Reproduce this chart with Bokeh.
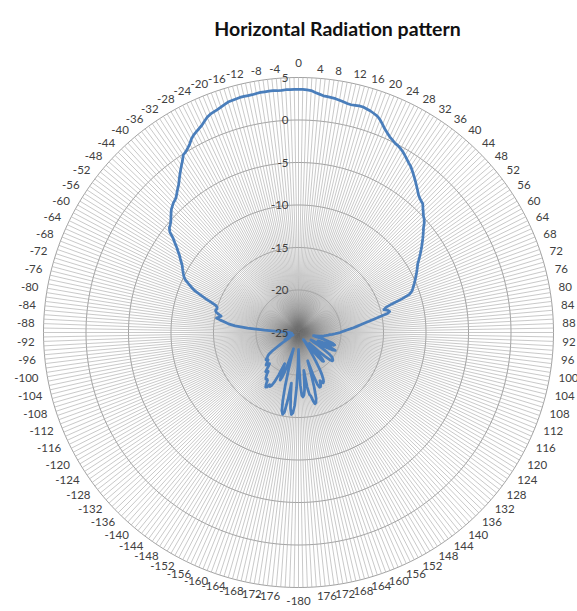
import numpy as np
from bokeh.plotting import figure
from bokeh.models import Range1d
from bokeh.core.properties import value
from bokeh.embed import file_html
from bokeh.resources import INLINE

# ---------------- data ----------------
title_text = "Horizontal Radiation pattern"

# categories in the order Excel places them clockwise from the top
angles_right = list(range(0, 180))      # 0 .. 179
angles_left = list(range(-180, 0))      # -180 .. -1

gain_right = [
    3.6, 3.6, 3.55, 3.5, 3.3, 3.15, 3.0, 2.95, 2.9, 2.85,
    2.75, 2.65, 2.55, 2.5, 2.55, 2.6, 2.6, 2.5, 2.4, 2.25,
    2.1, 1.8, 1.4, 1.0, 0.7, 0.4, 0.2, 0.0, -0.1, -0.25,
    -0.45, -0.7, -0.95, -1.2, -1.4, -1.7, -2.0, -2.3, -2.6, -2.9,
    -3.2, -3.5, -3.7, -3.85, -3.95, -4.3, -4.6, -4.9, -5.1, -5.4,
    -5.8, -6.1, -6.4, -6.7, -7.0, -7.3, -7.6, -7.9, -8.2, -8.5,
    -8.8, -9.0, -9.2, -9.4, -9.6, -9.8, -10.0, -10.2, -10.4, -10.6,
    -10.8, -11.2, -12.2, -13.5, -14.3, -14.6, -14.2, -14.0, -14.3, -15.2,
    -16.0, -16.6, -17.2, -17.7, -18.1, -18.5, -18.9, -19.3, -19.6, -19.9,
    -20.1, -20.4, -20.7, -21.0, -21.3, -21.5, -21.7, -21.9, -22.0, -22.2,
    -22.5, -23.0, -23.2, -23.0, -22.5, -22.0, -21.5, -21.0, -20.7, -20.5,
    -20.6, -21.0, -21.8, -22.5, -22.0, -20.8, -20.2, -20.4, -21.2, -22.2,
    -23.0, -23.3, -23.0, -22.2, -21.3, -20.6, -20.2, -20.0, -19.9, -19.8,
    -19.8, -20.1, -20.8, -21.8, -22.8, -23.2, -22.5, -21.5, -20.8, -20.5,
    -20.6, -21.2, -22.2, -23.2, -23.8, -24.0, -23.5, -22.8, -22.0, -21.0,
    -20.0, -19.3, -18.8, -18.5, -18.4, -18.6, -18.8, -18.3, -18.1, -18.1,
    -18.5, -19.8, -21.5, -20.0, -18.3, -17.0, -16.5, -16.4, -16.8, -17.4,
    -17.6, -18.5, -20.5, -19.5, -18.2, -17.6, -17.4, -17.6, -18.8, -21.0,
]

gain_left = [
    -23.0, -21.0, -18.5, -16.4, -15.5, -15.3, -16.0, -17.5, -19.0, -17.0,
    -15.5, -15.2, -15.6, -16.8, -18.5, -20.5, -22.0, -23.0, -22.0, -20.5,
    -19.5, -19.0, -19.5, -20.5, -21.0, -19.5, -18.5, -18.0, -17.8, -18.0,
    -17.6, -17.5, -17.8, -18.3, -18.4, -18.3, -18.5, -18.8, -19.2, -19.0,
    -19.0, -19.4, -19.8, -20.0, -19.8, -19.6, -19.8, -20.0, -20.2, -20.2,
    -20.0, -20.2, -20.4, -20.5, -20.8, -21.3, -22.0, -22.5, -23.0, -23.5,
    -23.8, -23.5, -23.2, -23.5, -23.8, -24.0, -24.3, -24.0, -23.7, -24.0,
    -24.3, -24.0, -23.6, -23.8, -24.0, -24.2, -24.0, -23.8, -23.6, -23.5,
    -23.5, -23.8, -24.0, -24.0, -24.2, -24.0, -23.8, -23.6, -23.6, -23.8,
    -24.0, -23.8, -23.3, -22.5, -21.0, -19.0, -17.5, -16.7, -16.3, -15.7,
    -15.2, -15.5, -15.7, -15.3, -15.0, -14.9, -15.0, -15.0, -14.8, -14.2,
    -13.4, -12.6, -11.8, -11.3, -10.8, -10.3, -10.0, -9.8, -9.6, -9.4,
    -9.2, -8.9, -8.6, -8.3, -7.9, -7.5, -7.0, -6.5, -5.8, -5.45,
    -5.3, -5.1, -4.8, -4.5, -4.2, -4.0, -3.8, -3.7, -3.5, -3.2,
    -2.9, -2.6, -2.2, -1.8, -1.4, -1.0, -0.6, -0.1, 0.05, 0.3,
    0.6, 1.0, 1.3, 1.5, 1.7, 1.9, 2.2, 2.5, 2.7, 2.8,
    2.9, 3.05, 3.2, 3.35, 3.4, 3.45, 3.5, 3.5, 3.5, 3.5,
    3.55, 3.6, 3.6, 3.6, 3.6, 3.55, 3.55, 3.6, 3.6, 3.6,
]

ring_values = [-25, -20, -15, -10, -5, 0, 5]
label_step = 4

# ---------------- layout ----------------
W, H = 577, 611
CX, CY = 298, 332          # centre of the radar inside the canvas (px)
R = 255.0                  # outer ring radius (px)
r_min, r_max = ring_values[0], ring_values[-1]
scale = R / (r_max - r_min)

cats = angles_right + angles_left
vals = np.array(gain_right + gain_left, dtype=float)
n = len(cats)
theta = np.deg2rad(np.arange(n) * 360.0 / n)
s, c = np.sin(theta), np.cos(theta)

p = figure(width=W, height=H,
           x_range=Range1d(-CX, W - CX), y_range=Range1d(-(H - CY), CY),
           output_backend="svg", toolbar_location=None, min_border=0,
           x_axis_location=None, y_axis_location=None)
p.outline_line_color = None
p.grid.visible = False
p.background_fill_color = "white"
p.border_fill_color = "white"

# spokes (semi-transparent so they darken where they converge, as in Excel)
p.segment(x0=np.zeros(n), y0=np.zeros(n), x1=R * s, y1=R * c,
          line_color="#707070", line_alpha=0.42, line_width=0.9)

# rings
xs, ys = [], []
for v in ring_values[1:]:
    rr = (v - r_min) * scale
    xs.append(list(np.append(rr * s, rr * s[0])))
    ys.append(list(np.append(rr * c, rr * c[0])))
p.multi_line(xs=xs, ys=ys, line_color="#a3a3a3", line_width=1)

# data line
rad = (vals - r_min) * scale
dx = np.append(rad * s, rad[0] * s[0])
dy = np.append(rad * c, rad[0] * c[0])
p.line(dx, dy, line_color="#4a7ebb", line_width=2.75, line_join="round")

# category labels
font = value("Lato")
fs = "11.5px"
tc = "#404040"
LR = 264.0
idx = [i for i in range(n) if cats[i] % label_step == 0]
right = [i for i in idx if 0 < i < n // 2]
left = [i for i in idx if i > n // 2]
top = [i for i in idx if i == 0]
bottom = [i for i in idx if i == n // 2]

p.text(x=[LR * s[i] for i in right], y=[LR * c[i] for i in right],
       text=[str(cats[i]) for i in right], text_align="left", text_baseline="middle",
       text_font=font, text_font_size=fs, text_color=tc)
p.text(x=[LR * s[i] for i in left], y=[LR * c[i] for i in left],
       text=[str(cats[i]) for i in left], text_align="right", text_baseline="middle",
       text_font=font, text_font_size=fs, text_color=tc)
p.text(x=[0 for i in top], y=[LR + 2 for i in top],
       text=[str(cats[i]) for i in top], text_align="center", text_baseline="bottom",
       text_font=font, text_font_size=fs, text_color=tc)
p.text(x=[0 for i in bottom], y=[-LR for i in bottom],
       text=[str(cats[i]) for i in bottom], text_align="center", text_baseline="top",
       text_font=font, text_font_size=fs, text_color=tc)

# value-axis labels
p.text(x=[-10] * len(ring_values), y=[(v - r_min) * scale for v in ring_values],
       text=[str(v) for v in ring_values], text_align="right", text_baseline="middle",
       text_font=font, text_font_size=fs, text_color=tc)

# title
p.text(x=[39], y=[304], text=[title_text], text_align="center", text_baseline="alphabetic",
       text_font=font, text_font_size="19.5px", text_font_style="bold", text_color="#111111")

open("out.html", "w").write(file_html(p, INLINE))
